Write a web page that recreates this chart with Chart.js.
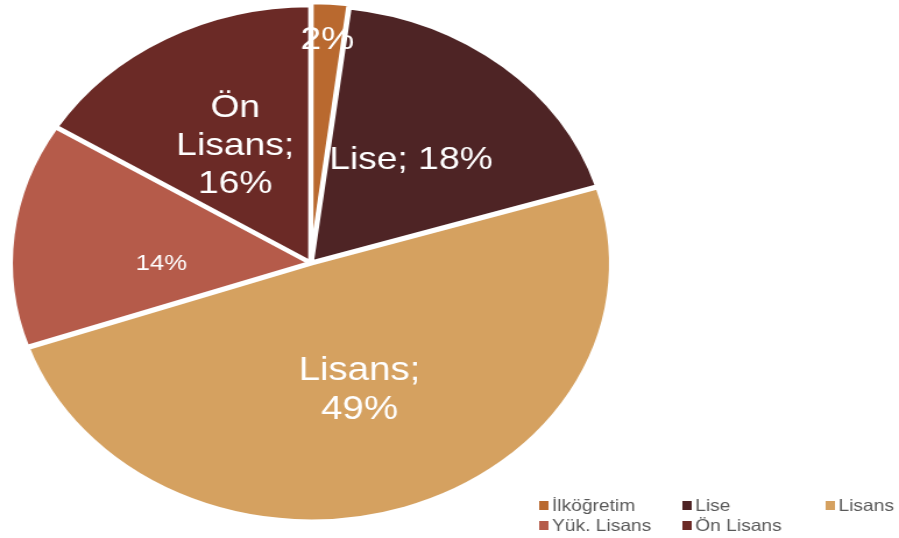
<!DOCTYPE html>
<html>
<head>
<meta charset="utf-8">
<script src="https://cdn.jsdelivr.net/npm/chart.js@4"></script>
<style>
  html, body { margin: 0; padding: 0; background: #fff; }
  #chart { display: block; width: 899px; height: 538px; }
</style>
</head>
<body>
<canvas id="chart" width="772" height="538" style="width:899px;height:538px"></canvas>
<script>
// Education level distribution
const categories = ['İlköğretim', 'Lise', 'Lisans', 'Yük. Lisans', 'Ön Lisans'];
const percents = [2, 18, 49, 14, 16];
const sliceLabels = [['2%'], ['Lise; 18%'], ['Lisans;', '49%'], ['14%'], ['Ön', 'Lisans;', '16%']];
const colors = ['#b9692f', '#4e2425', '#d5a160', '#b55b4a', '#6b2a26'];

// label placement per slice (radius fraction, font size)
const labelPos = [0.87, 0.52, 0.52, 0.5, 0.52];
const labelSize = [32, 32, 33, 22, 32];

// The original picture is stretched sideways, so the canvas is too
const sliceLabelPlugin = {
    id: 'sliceLabels',
    afterDatasetsDraw(chart) {
        const ctx = chart.ctx;
        const arcs = chart.getDatasetMeta(0).data;
        ctx.save();
        ctx.fillStyle = '#ffffff';
        ctx.textAlign = 'center';
        ctx.textBaseline = 'middle';
        arcs.forEach(function(arc, i) {
            const p = arc.getProps(['x', 'y', 'startAngle', 'endAngle', 'outerRadius'], true);
            let mid = (p.startAngle + p.endAngle) / 2;
            if (i === 3) mid -= 0.12; // 14% sits a bit lower in the original
            const r = p.outerRadius * labelPos[i];
            const cx = p.x + Math.cos(mid) * r;
            const cy = p.y + Math.sin(mid) * r;
            const lines = sliceLabels[i];
            const lh = labelSize[i] * 1.18;
            ctx.font = labelSize[i] + 'px "Liberation Sans", Arial, sans-serif';
            lines.forEach(function(line, j) {
                ctx.fillText(line, cx, cy + (j - (lines.length - 1) / 2) * lh);
            });
        });
        ctx.restore();
    }
};

const legendPlugin = {
    id: 'gridLegend',
    afterDraw(chart) {
        const ctx = chart.ctx;
        const colX = [463, 586, 709];
        const rowY = [505, 525];
        ctx.save();
        ctx.font = '16.5px "Liberation Sans", Arial, sans-serif';
        ctx.textBaseline = 'middle';
        ctx.textAlign = 'left';
        categories.forEach(function(name, i) {
            const x = colX[i % 3];
            const y = rowY[Math.floor(i / 3)];
            ctx.fillStyle = colors[i];
            ctx.fillRect(x, y - 4, 8, 9);
            ctx.fillStyle = '#595959';
            ctx.fillText(name, x + 11, y + 1);
        });
        ctx.restore();
    }
};

new Chart(document.getElementById('chart'), {
    type: 'pie',
    data: {
        labels: categories,
        datasets: [{
            data: percents,
            backgroundColor: colors,
            borderColor: '#ffffff',
            borderWidth: 4,
            offset: [8, 3, 3, 3, 3]
        }]
    },
    options: {
        responsive: false,
        animation: false,
        radius: 257,
        layout: { padding: { left: 0, right: 238, top: 0, bottom: 12 } },
        plugins: {
            legend: { display: false },
            tooltip: { enabled: false }
        }
    },
    plugins: [sliceLabelPlugin, legendPlugin]
});
</script>
</body>
</html>
